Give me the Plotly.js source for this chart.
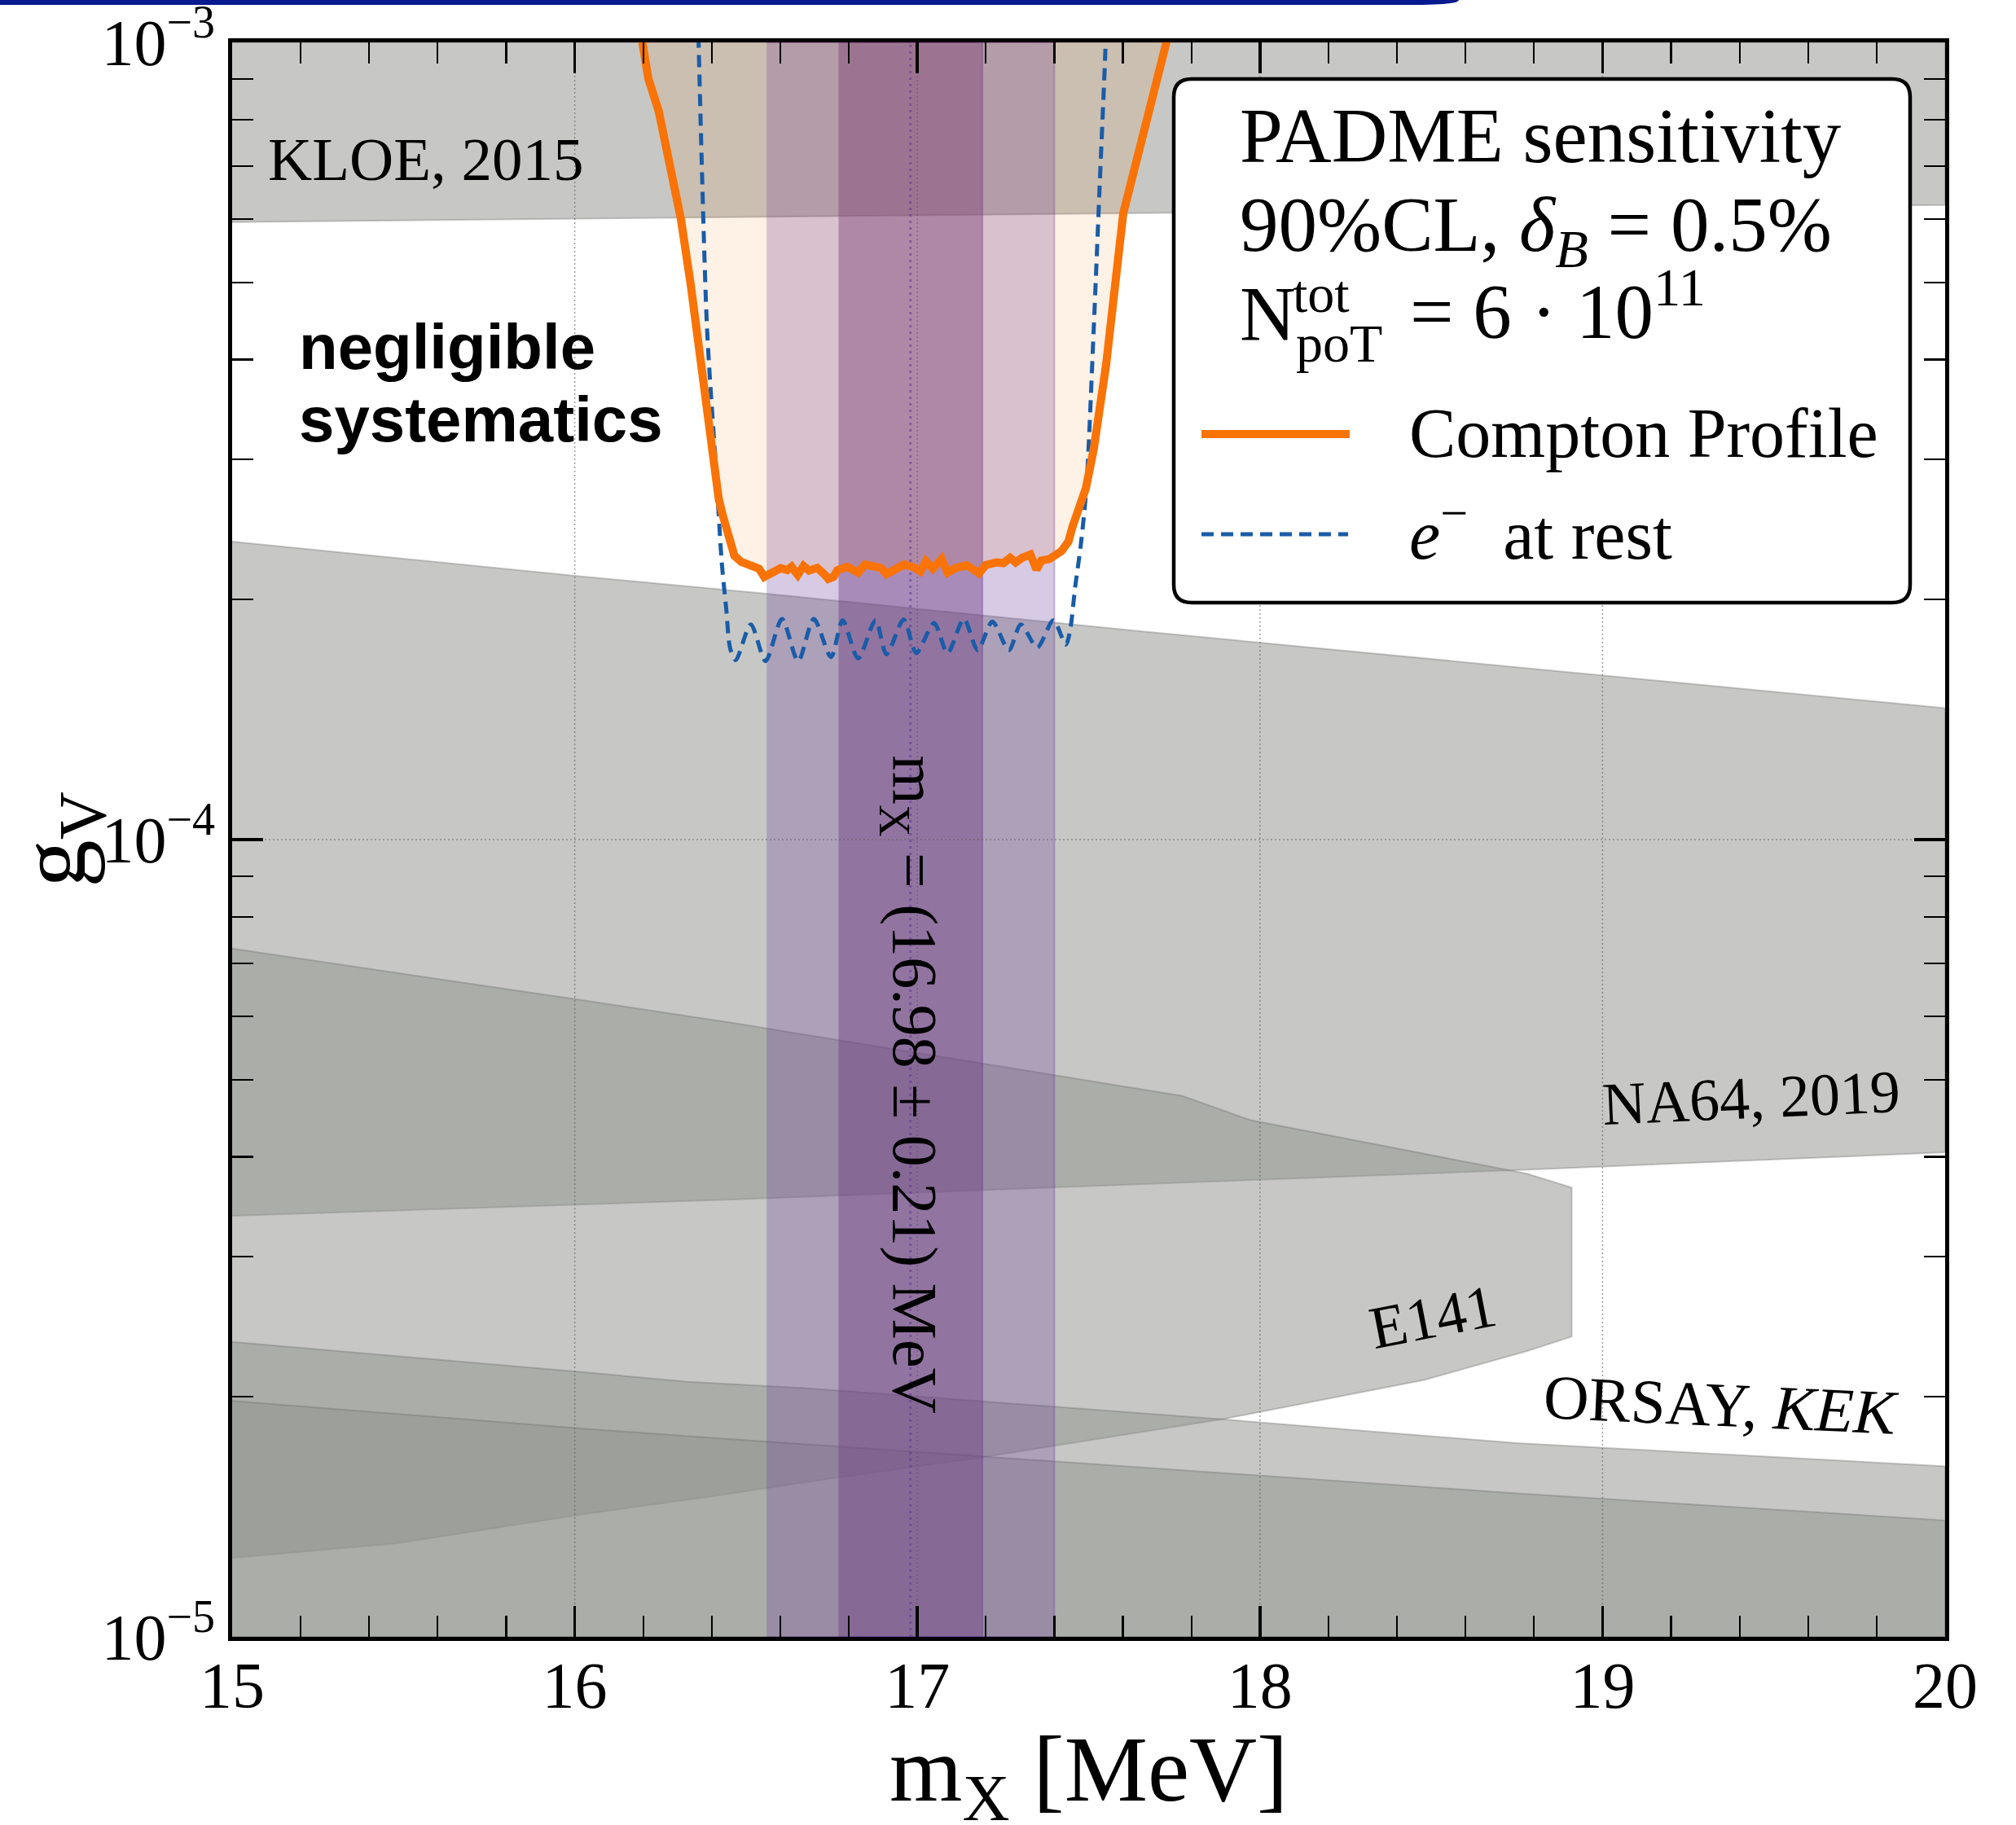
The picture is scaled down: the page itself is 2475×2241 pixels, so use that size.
<!DOCTYPE html>
<html><head><meta charset="utf-8">
<script src="https://cdn.plot.ly/plotly-3.0.1.min.js"></script>
<style>html,body{margin:0;padding:0;background:#fff;} #chart{width:2475px;height:2241px;}</style>
</head><body><div id="chart"></div>
<script>
// ---------- axes / ticks ----------
const xRange = [15, 20];
const yRange = [1e-5, 1e-3];
const xTickVals = [15, 16, 17, 18, 19, 20];
const xTickText = ['15', '16', '17', '18', '19', '20'];
const yTickVals = [1e-5, 1e-4, 1e-3];
const yTickText = ['10<sup>−5</sup>', '10<sup>−4</sup>', '10<sup>−3</sup>'];

// ---------- X17 mass ----------
const mX = 16.98;
const mXErr = 0.21;

// ---------- excluded regions (boundaries) ----------
const kloeLowX = [15, 17.75, 20];
const kloeLowG = [5.95e-4, 6.11e-4, 6.25e-4];

const na64UpX = [15, 16, 16.56, 17.65, 20];
const na64UpG = [2.365e-4, 2.143e-4, 2.034e-4, 1.826e-4, 1.462e-4];
const na64LowX = [15, 16.46, 18.8, 20];
const na64LowG = [3.374e-5, 3.536e-5, 3.857e-5, 4.053e-5];

const e141X = [15, 16, 16.46, 17.774, 17.971, 18.78, 18.91, 18.91, 18.78, 18.48, 17.89, 17.19, 16.66, 16.40, 16.0, 15.48, 15.0];
const e141G = [7.30e-5, 6.31e-5, 5.89e-5, 4.77e-5, 4.45e-5, 3.81e-5, 3.66e-5, 2.38e-5, 2.283e-5, 2.10e-5, 1.875e-5, 1.68e-5, 1.56e-5, 1.50e-5, 1.42e-5, 1.31e-5, 1.256e-5];

const orsayX = [15, 16, 16.33, 16.66, 17.89, 18.75, 20];
const orsayG = [2.344e-5, 2.153e-5, 2.089e-5, 2.053e-5, 1.875e-5, 1.750e-5, 1.637e-5];
const kekX = [15, 16, 16.33, 16.66, 17.89, 18.75, 20];
const kekG = [1.977e-5, 1.828e-5, 1.786e-5, 1.746e-5, 1.607e-5, 1.514e-5, 1.400e-5];

// ---------- PADME sensitivity curves (g in units of 1e-4) ----------
const comptonX = [16.194,16.215,16.245,16.275,16.300,16.310,16.339,16.375,16.400,16.420,16.431,16.446,16.466,16.486,16.518,16.538,16.553,16.577,16.601,16.621,16.633,16.651,16.668,16.684,16.708,16.728,16.740,16.755,16.767,16.795,16.827,16.847,16.874,16.894,16.910,16.938,16.962,16.993,17.009,17.025,17.045,17.071,17.088,17.112,17.144,17.168,17.180,17.199,17.231,17.251,17.271,17.287,17.306,17.330,17.348,17.362,17.385,17.421,17.441,17.453,17.473,17.492,17.515,17.551,17.601,17.637,17.684,17.725,17.732];
const comptonG = [10.2,9.0,8.2,7.1,6.4,6.0,4.95,3.7,3.05,2.68,2.56,2.41,2.27,2.23,2.209,2.187,2.136,2.162,2.190,2.178,2.199,2.148,2.204,2.175,2.192,2.153,2.124,2.136,2.178,2.199,2.162,2.213,2.196,2.192,2.153,2.187,2.213,2.192,2.170,2.234,2.187,2.248,2.162,2.192,2.209,2.175,2.158,2.209,2.227,2.222,2.257,2.227,2.257,2.278,2.182,2.239,2.248,2.301,2.365,2.469,2.608,2.76,3.09,3.94,6.1,7.05,8.40,10.0,10.2];

const restX = [16.361,16.362,16.386,16.412,16.429,16.442,16.454,16.470,16.514,16.557,16.605,16.652,16.698,16.748,16.782,16.827,16.878,16.910,16.960,16.997,17.049,17.088,17.136,17.176,17.219,17.267,17.302,17.350,17.397,17.433,17.445,17.461,17.477,17.493,17.515,17.532,17.549,17.550];
const restG = [10.2,9.81,4.39,2.93,2.23,1.951,1.735,1.679,1.862,1.675,1.891,1.675,1.891,1.694,1.884,1.688,1.884,1.708,1.888,1.714,1.869,1.714,1.891,1.728,1.877,1.728,1.862,1.742,1.884,1.756,1.82,2.08,2.34,2.75,4.39,6.58,9.8,10.2];

// ---------- helpers ----------
const SERIF = 'Liberation Serif';
const GRAY_FILL = 'rgba(143,145,140,0.5)';
const GRAY_EDGE = 'rgba(110,110,110,0.35)';
const rev = a => a.slice().reverse();
const scale = (a, f) => a.map(v => v * f);
function region(x, y) {
  return {type: 'scatter', mode: 'lines', x: x, y: y, fill: 'toself', fillcolor: GRAY_FILL,
          line: {color: GRAY_EDGE, width: 2}, hoverinfo: 'skip', showlegend: false};
}

const traces = [];
// KLOE (from top down to boundary)
traces.push(region(kloeLowX.concat([xRange[1], xRange[0]]), kloeLowG.concat([yRange[1], yRange[1]])));
// NA64 band
traces.push(region(na64UpX.concat(rev(na64LowX)), na64UpG.concat(rev(na64LowG))));
// E141
traces.push(region(e141X, e141G));
// ORSAY
traces.push(region(orsayX.concat([xRange[1], xRange[0]]), orsayG.concat([yRange[0], yRange[0]])));
// KEK
traces.push(region(kekX.concat([xRange[1], xRange[0]]), kekG.concat([yRange[0], yRange[0]])));

// mass bands (2 sigma, 1 sigma)
function vband(lo, hi, fill, edge) {
  return {type: 'scatter', mode: 'lines', x: [lo, hi, hi, lo], y: [yRange[0], yRange[0], yRange[1], yRange[1]],
          fill: 'toself', fillcolor: fill, line: {color: edge, width: 2}, hoverinfo: 'skip', showlegend: false};
}
traces.push(vband(mX - 2 * mXErr, mX + 2 * mXErr, 'rgba(102,51,153,0.26)', 'rgba(102,51,153,0.30)'));
traces.push(vband(mX - mXErr, mX + mXErr, 'rgba(114,63,130,0.45)', 'rgba(102,51,153,0.35)'));

// orange fill above Compton-profile curve
const compG = scale(comptonG, 1e-4);
const restGv = scale(restG, 1e-4);
traces.push({type: 'scatter', mode: 'none', x: comptonX, y: compG, fill: 'toself',
             fillcolor: 'rgba(249,115,6,0.10)', hoverinfo: 'skip', showlegend: false});

// grid lines (dotted)
xTickVals.slice(1, -1).forEach(v => traces.push({type: 'scatter', mode: 'lines', x: [v, v], y: yRange,
  line: {color: 'rgba(90,90,90,0.55)', width: 1.6, dash: '2px,3px'}, hoverinfo: 'skip', showlegend: false}));
yTickVals.slice(1, -1).forEach(v => traces.push({type: 'scatter', mode: 'lines', x: xRange, y: [v, v],
  line: {color: 'rgba(90,90,90,0.55)', width: 1.6, dash: '2px,3px'}, hoverinfo: 'skip', showlegend: false}));
// central mass dotted line
traces.push({type: 'scatter', mode: 'lines', x: [mX, mX], y: yRange,
  line: {color: 'rgba(102,51,153,0.55)', width: 3, dash: '3px,5px'}, hoverinfo: 'skip', showlegend: false});

// e- at rest (blue dashed)
traces.push({type: 'scatter', mode: 'lines', x: restX, y: restGv,
  line: {color: '#1a5ca8', width: 5, dash: '15px,9px', shape: 'spline', smoothing: 0.8}, hoverinfo: 'skip', showlegend: false});
// Compton profile (orange)
traces.push({type: 'scatter', mode: 'lines', x: comptonX, y: compG,
  line: {color: '#f97306', width: 10}, hoverinfo: 'skip', showlegend: false});

// ---------- minor ticks ----------
const xMinor = [];
for (let v = xRange[0]; v < xRange[1] - 1e-9; v += 1) for (let k = 1; k < 5; k++) xMinor.push(+(v + 0.2 * k).toFixed(2));
const yMinor = [];
for (let e = -5; e < -3; e++) for (let k = 2; k < 10; k++) yMinor.push(k * Math.pow(10, e));

// ---------- layout helpers (paper coordinates of the 2475x2241 figure) ----------
const L = 285, R = 2388, T = 52, B = 2010;
const px = v => (v - L) / (R - L);
const py = v => (B - v) / (B - T);

function roundRect(x0, y0, x1, y1, r) {
  const rx = r / (R - L), ry = r / (B - T);
  const X0 = px(x0), X1 = px(x1), Y0 = py(y1), Y1 = py(y0);
  return `M ${X0 + rx},${Y0} L ${X1 - rx},${Y0} Q ${X1},${Y0} ${X1},${Y0 + ry} L ${X1},${Y1 - ry} Q ${X1},${Y1} ${X1 - rx},${Y1} ` +
         `L ${X0 + rx},${Y1} Q ${X0},${Y1} ${X0},${Y1 - ry} L ${X0},${Y0 + ry} Q ${X0},${Y0} ${X0 + rx},${Y0} Z`;
}

const shapes = [
  // top banner strip (slide artefact)
  {type: 'path', xref: 'paper', yref: 'paper', layer: 'above',
   path: `M ${px(0)},${py(0)} L ${px(1791)},${py(0)} Q ${px(1791)},${py(6)} ${px(1729)},${py(6)} L ${px(0)},${py(6)} Z`,
   fillcolor: '#08198f', line: {width: 0}},
  // legend box
  {type: 'path', xref: 'paper', yref: 'paper', layer: 'above', path: roundRect(1441, 97, 2345, 740, 22),
   fillcolor: '#ffffff', line: {color: '#000', width: 4.5}},
  // legend samples
  {type: 'line', xref: 'paper', yref: 'paper', layer: 'above', x0: px(1475), x1: px(1657), y0: py(533), y1: py(533),
   line: {color: '#f97306', width: 10}},
  {type: 'line', xref: 'paper', yref: 'paper', layer: 'above', x0: px(1475), x1: px(1655), y0: py(656), y1: py(656),
   line: {color: '#1a5ca8', width: 5, dash: '15px,9px'}}
];

const lg = (text, x, y, size, extra) => Object.assign({xref: 'paper', yref: 'paper', x: px(x), y: py(y), xanchor: 'left', yanchor: 'middle',
  text: text, showarrow: false, font: {family: SERIF, size: size, color: '#000'}}, extra || {});
const lab = (text, x, g, size, angle, anchor) => ({xref: 'x', yref: 'y', x: x, y: Math.log10(g), text: text, showarrow: false,
  textangle: angle || 0, xanchor: anchor || 'center', yanchor: 'middle', font: {family: SERIF, size: size, color: '#000'}});

const annotations = [
  lab('KLOE, 2015', 15.10, 7.13e-4, 75, 0, 'left'),
  lab('NA64, 2019', 19.434, Math.pow(10, -4.324), 74, -2.5),
  lab('E141', 18.505, Math.pow(10, -4.599), 74, -11),
  lab('ORSAY, <i>KEK</i>', 19.345, Math.pow(10, -4.709), 77, 2.6),
  lab(`m<sub>X</sub> = (${mX.toFixed(2)} ± ${mXErr.toFixed(2)}) MeV`, mX, Math.pow(10, -4.3075), 78, 90),
  {xref: 'x', yref: 'y', x: 15.19, y: Math.log10(4.15e-4), text: '<b>negligible</b>', showarrow: false, xanchor: 'left', yanchor: 'middle',
   font: {family: 'Liberation Sans', size: 78, color: '#000'}},
  {xref: 'x', yref: 'y', x: 15.19, y: Math.log10(3.365e-4), text: '<b>systematics</b>', showarrow: false, xanchor: 'left', yanchor: 'middle',
   font: {family: 'Liberation Sans', size: 78, color: '#000'}},
  // x-axis title (placed as annotation so it can sit low in the margin)
  {xref: 'paper', yref: 'paper', x: 0.5, y: py(2180), xanchor: 'center', yanchor: 'middle', showarrow: false,
   text: 'm<sub>X</sub> [MeV]', font: {family: SERIF, size: 115, color: '#000'}},
  // legend texts
  lg('PADME sensitivity', 1520, 167, 95),
  lg('90%CL, <i>δ</i><sub><i>B</i></sub> = 0.5%', 1520, 282, 95),
  lg('N', 1520, 386, 95),
  lg('tot', 1585, 360, 66),
  lg('poT', 1589, 422, 66),
  lg('= 6 · 10<sup>11</sup>', 1729, 376, 95),
  lg('Compton Profile', 1728, 532, 86),
  lg('<i>e</i><sup>−</sup>  at rest', 1728, 650, 86)
];

const tickFont = {family: SERIF, size: 80, color: '#000'};
const layout = {
  width: 2475, height: 2241,
  margin: {l: L, r: 2475 - R, t: T, b: 2241 - B, pad: 0},
  paper_bgcolor: '#ffffff', plot_bgcolor: '#ffffff',
  font: {family: SERIF, color: '#000'},
  showlegend: false,
  xaxis: {range: xRange, tickmode: 'array', tickvals: xTickVals, ticktext: xTickText, ticks: 'inside', ticklen: 38, tickwidth: 3.5,
          tickcolor: '#000', mirror: 'allticks', showline: true, linewidth: 5, linecolor: '#000', showgrid: false, zeroline: false,
          tickfont: tickFont, automargin: false, layer: 'above traces', ticklabelstandoff: -14, ticklabeloverflow: 'allow',
          minor: {tickmode: 'array', tickvals: xMinor, ticks: 'inside', ticklen: 26, tickwidth: 2.2, tickcolor: '#000', showgrid: false}},
  yaxis: {type: 'log', range: [Math.log10(yRange[0]) - 1e-6, Math.log10(yRange[1]) + 1e-6], tickmode: 'array', tickvals: yTickVals, ticktext: yTickText,
          ticks: 'inside', ticklen: 38, tickwidth: 3.5, tickcolor: '#000', mirror: 'allticks', showline: true, linewidth: 5, linecolor: '#000',
          showgrid: false, zeroline: false, tickfont: tickFont, automargin: false, layer: 'above traces', ticklabeloverflow: 'allow',
          minor: {tickmode: 'array', tickvals: yMinor, ticks: 'inside', ticklen: 26, tickwidth: 2.2, tickcolor: '#000', showgrid: false},
          title: {text: 'g<sub>V</sub>', font: {family: SERIF, size: 117, color: '#000'}, standoff: 20}},
  shapes: shapes,
  annotations: annotations
};

Plotly.newPlot('chart', traces, layout, {staticPlot: true, displayModeBar: false});
</script>
</body></html>
